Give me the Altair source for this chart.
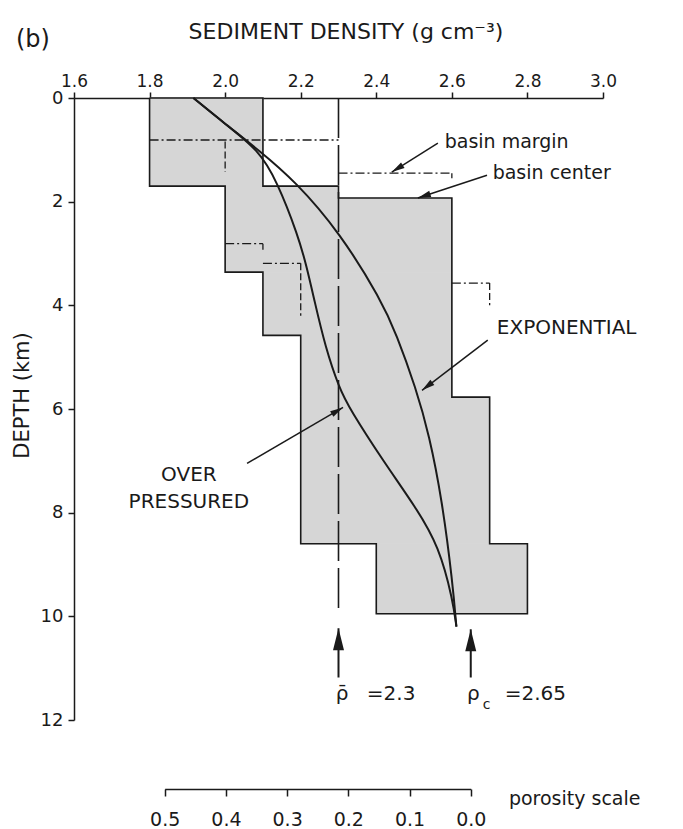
import math
import altair as alt
import pandas as pd

# ---------------- values ----------------
density_ticks = [1.6, 1.8, 2.0, 2.2, 2.4, 2.6, 2.8, 3.0]
depth_ticks = [0, 2, 4, 6, 8, 10, 12]
porosity_ticks = [0.5, 0.4, 0.3, 0.2, 0.1, 0.0]

# observed density range (stippled envelope) per depth interval
env_top = [0.0, 1.70, 1.93, 3.36, 4.58, 5.77, 8.60]
env_bot = [1.70, 1.93, 3.36, 4.58, 5.77, 8.60, 9.95]
env_min = [1.8, 2.0, 2.0, 2.1, 2.2, 2.2, 2.4]
env_max = [2.1, 2.3, 2.6, 2.6, 2.6, 2.7, 2.8]

# exponential and overpressured density-depth curves
exp_depth = [0.0, 0.5, 1.0, 1.6, 2.6, 3.9, 4.55, 5.6, 6.5, 7.75, 9.35, 10.2]
exp_rho = [1.916, 2.0, 2.088, 2.185, 2.304, 2.413, 2.453, 2.505, 2.54, 2.574, 2.602, 2.612]
op_depth = [0.0, 0.5, 1.0, 1.6, 2.65, 3.26, 3.9, 4.8, 5.6, 6.0, 7.0, 7.9, 8.65, 9.7, 10.2]
op_rho = [1.916, 2.0, 2.088, 2.137, 2.193, 2.216, 2.236, 2.265, 2.302, 2.33, 2.418, 2.505, 2.566, 2.603, 2.612]

# mean density line and crustal density
mean_rho = 2.3
mean_depth = [0.0, 9.95]
rho_c = 2.65
rho_w = 1.03

# basin-margin profile (dash-dot) pieces
margin_h_depth = [0.81, 1.45, 2.81, 3.19, 3.57]
margin_h_from = [1.8, 2.3, 2.0, 2.1, 2.6]
margin_h_to = [2.3, 2.6, 2.1, 2.2, 2.7]
margin_v_rho = [2.0, 2.6, 2.1, 2.2, 2.7]
margin_v_from = [0.84, 1.45, 2.81, 3.19, 3.57]
margin_v_to = [1.43, 1.55, 2.93, 4.2, 4.0]

# label arrows (tail -> tip)
arrow_from_rho = [2.563, 2.693, 2.695, 2.058]
arrow_from_depth = [0.87, 1.49, 4.67, 7.05]
arrow_to_rho = [2.441, 2.510, 2.521, 2.312]
arrow_to_depth = [1.43, 1.93, 5.64, 5.97]
marker_rho = [mean_rho, rho_c]
marker_from_depth = [11.18, 11.18]
marker_to_depth = [10.23, 10.25]

# ---------------- layout ----------------
W, H = 529, 622
X_DOM = [1.6, 3.0]
Y_DOM = [0, 12]
PX_X = W / (X_DOM[1] - X_DOM[0])
PX_Y = H / (Y_DOM[1] - Y_DOM[0])
INK = "#1a1a1a"
FONT = "DejaVu Sans"
ARROW_PATH = "M0,0L0.5,2L-0.5,2Z"

xs = alt.Scale(domain=X_DOM, nice=False, zero=False)
ys = alt.Scale(domain=Y_DOM, nice=False, zero=False, reverse=True)

top_axis = alt.Axis(
    orient="top", values=density_ticks, format=".1f",
    title="SEDIMENT DENSITY (g cm\u207b\u00b3)",
    tickSize=6, labelPadding=2, labelFlush=False, labelFontSize=17,
    titleFontSize=22, titleFontWeight="normal", titleX=271.5, titleY=-59.5,
    titleAlign="center", titleBaseline="alphabetic", titleAngle=0,
    domainWidth=1.5, tickWidth=1.5, grid=False, labelOverlap=False,
)
left_axis = alt.Axis(
    orient="left", values=depth_ticks, format="d", title="DEPTH (km)",
    tickSize=6, labelPadding=5, labelFontSize=18,
    titleFontSize=21, titleFontWeight="normal", titleX=-52, titleY=297,
    titleAngle=270, titleAlign="center", titleBaseline="middle",
    domainWidth=1.5, tickWidth=1.5, grid=False, labelOverlap=False,
)


def X(field):
    return alt.X(field, type="quantitative", scale=xs, axis=top_axis)


def Y(field):
    return alt.Y(field, type="quantitative", scale=ys, axis=left_axis)


# envelope fill
env_df = pd.DataFrame({"top": env_top, "bot": env_bot, "lo": env_min, "hi": env_max})
fill = alt.Chart(env_df).mark_rect(fill="#d6d6d6", stroke="#d6d6d6", strokeWidth=1).encode(
    x=X("lo"), x2="hi", y=Y("top"), y2="bot"
)

# envelope outline
pts = []
for t, b, lo in zip(env_top, env_bot, env_min):
    pts += [(lo, t), (lo, b)]
for t, b, hi in reversed(list(zip(env_top, env_bot, env_max))):
    pts += [(hi, b), (hi, t)]
pts.append(pts[0])
outline_df = pd.DataFrame({"rho": [p[0] for p in pts], "depth": [p[1] for p in pts], "seq": range(len(pts))})
outline = alt.Chart(outline_df).mark_line(color=INK, strokeWidth=1.6).encode(
    x=X("rho"), y=Y("depth"), order="seq:Q"
)

# mean density dashed line
mean_df = pd.DataFrame({"rho": [mean_rho], "d0": [mean_depth[0]], "d1": [mean_depth[1]]})
mean_line = alt.Chart(mean_df).mark_rule(color=INK, strokeWidth=1.6, strokeDash=[40, 7]).encode(
    x=X("rho"), y=Y("d0"), y2="d1"
)

# basin-margin dash-dot pieces
mh_df = pd.DataFrame({"d": margin_h_depth, "a": margin_h_from, "b": margin_h_to})
margin_h = alt.Chart(mh_df).mark_rule(color=INK, strokeWidth=1.3, strokeDash=[9, 3, 2, 3]).encode(
    x=X("a"), x2="b", y=Y("d")
)
mv_df = pd.DataFrame({"rho": margin_v_rho, "a": margin_v_from, "b": margin_v_to})
margin_v = alt.Chart(mv_df).mark_rule(color=INK, strokeWidth=1.3, strokeDash=[7, 3]).encode(
    x=X("rho"), y=Y("a"), y2="b"
)

# curves
curve_rows = []
for i, (d, r) in enumerate(zip(exp_depth, exp_rho)):
    curve_rows.append({"series": "exponential", "rho": r, "depth": d, "seq": i})
for i, (d, r) in enumerate(zip(op_depth, op_rho)):
    curve_rows.append({"series": "overpressured", "rho": r, "depth": d, "seq": i})
curves = alt.Chart(pd.DataFrame(curve_rows)).mark_line(
    color=INK, strokeWidth=2, interpolate="basis"
).encode(x=X("rho"), y=Y("depth"), detail="series:N", order="seq:Q")


def head_angle(x0, d0, x1, d1):
    dx = (x1 - x0) * PX_X
    dy = (d1 - d0) * PX_Y
    return math.degrees(math.atan2(dx, -dy)) % 360


arr_df = pd.DataFrame({
    "x0": arrow_from_rho, "d0": arrow_from_depth,
    "x1": arrow_to_rho, "d1": arrow_to_depth,
})
arr_df["ang"] = [head_angle(*r) for r in arr_df[["x0", "d0", "x1", "d1"]].values]
shafts = alt.Chart(arr_df).mark_rule(color=INK, strokeWidth=1.5).encode(
    x=X("x0"), x2="x1", y=Y("d0"), y2="d1"
)
heads = alt.Chart(arr_df).mark_point(shape=ARROW_PATH, filled=True, size=170, color=INK, opacity=1).encode(
    x=X("x1"), y=Y("d1"), angle=alt.Angle("ang:Q", scale=None)
)

mk_df = pd.DataFrame({"x": marker_rho, "d0": marker_from_depth, "d1": marker_to_depth})
mk_df["ang"] = [head_angle(x, a, x, b) for x, a, b in zip(marker_rho, marker_from_depth, marker_to_depth)]
mk_shafts = alt.Chart(mk_df).mark_rule(color=INK, strokeWidth=2).encode(
    x=X("x"), y=Y("d0"), y2="d1"
)
mk_heads = alt.Chart(mk_df).mark_point(shape=ARROW_PATH, filled=True, size=484, color=INK, opacity=1).encode(
    x=X("x"), y=Y("d1"), angle=alt.Angle("ang:Q", scale=None)
)


def text_layer(texts, xs_, ds, size, align="left", baseline="middle"):
    df = pd.DataFrame({"t": texts, "x": xs_, "d": ds})
    return alt.Chart(df).mark_text(
        font=FONT, fontSize=size, color=INK, align=align, baseline=baseline
    ).encode(x=X("x"), y=Y("d"), text="t:N")


lab_lower = text_layer(["basin margin", "basin center"], [2.581, 2.708], [0.85, 1.45], 19)
lab_caps = text_layer(["EXPONENTIAL"], [2.719], [4.44], 20)
lab_over = text_layer(["OVER", "PRESSURED"], [1.904, 1.904], [7.28, 7.80], 20, align="center")
lab_b = text_layer(["(b)"], [1.4465], [-0.99], 24, baseline="alphabetic")
lab_rho = text_layer(["\u03c1\u0304", "=2.3", "\u03c1", "=2.65"],
                     [2.2926, 2.375, 2.64, 2.740], [11.62, 11.62, 11.62, 11.62], 20,
                     baseline="alphabetic")
lab_sub = text_layer(["c"], [2.682], [11.78], 14, baseline="alphabetic")
lab_por = text_layer(["porosity scale"], [2.751], [13.53], 19)

density = alt.layer(
    fill, outline, mean_line, margin_h, margin_v, curves,
    shafts, heads, mk_shafts, mk_heads,
    lab_lower, lab_caps, lab_over, lab_b, lab_rho, lab_sub, lab_por,
)

# porosity scale: phi maps onto density via rho = rho_c - phi*(rho_c - rho_w)
por_range = [((rho_c - p * (rho_c - rho_w)) - X_DOM[0]) * PX_X for p in (porosity_ticks[0], porosity_ticks[-1])]
por_axis = alt.Axis(
    orient="bottom", offset=69, values=porosity_ticks, format=".1f", title=None,
    tickSize=7, labelPadding=14, labelFontSize=19, labelFlush=False,
    domainWidth=1.5, tickWidth=1.5, grid=False, labelOverlap=False,
)
por_df = pd.DataFrame({"phi": porosity_ticks})
porosity = alt.Chart(por_df).mark_point(opacity=0).encode(
    x=alt.X("phi:Q", scale=alt.Scale(domain=[porosity_ticks[0], porosity_ticks[-1]],
                                     range=por_range, nice=False, zero=False), axis=por_axis),
    y=alt.value(0),
)

chart = alt.layer(density, porosity).resolve_scale(x="independent").properties(
    width=W, height=H,
    padding={"left": 66, "top": 90, "right": 72, "bottom": 109},
    autosize=alt.AutoSizeParams(type="none"),
    background="white",
).configure_view(stroke=None).configure_axis(
    domainColor=INK, tickColor=INK, labelColor=INK, titleColor=INK,
    labelFont=FONT, titleFont=FONT, grid=False,
)

chart.save("out.html", embed_options={"renderer": "svg", "actions": False})
